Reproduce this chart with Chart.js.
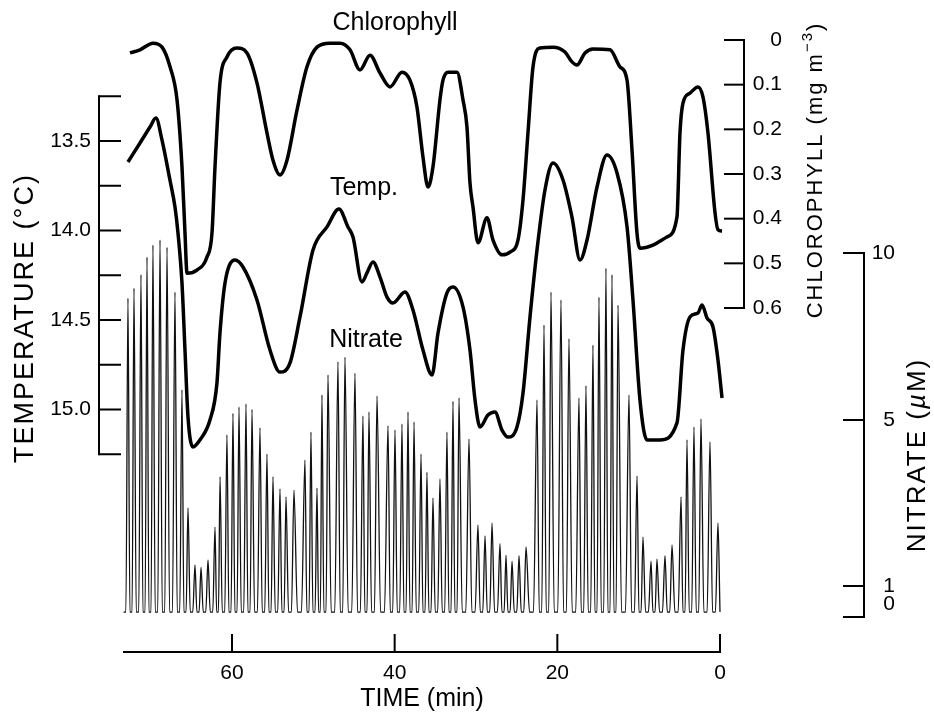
<!DOCTYPE html>
<html>
<head>
<meta charset="utf-8">
<script src="https://cdn.jsdelivr.net/npm/chart.js@4.4.0/dist/chart.umd.min.js"></script>
<style>
  html, body { margin: 0; padding: 0; background: #fff; }
</style>
</head>
<body>
<canvas id="chart" width="934" height="714"></canvas>
<script>
// time axis is minutes before the end of the run, drawn right to left
const chlTime = [72.54, 71.31, 69.71, 68.60, 67.62, 66.76, 66.15, 65.78, 65.53, 64.31, 63.08, 62.46, 62.09, 61.48, 60.62, 59.39, 58.16, 56.93, 55.70, 54.96, 54.10, 53.24, 52.01, 50.78, 49.55, 47.95, 46.72, 45.49, 44.26, 43.03, 41.80, 40.57, 39.10, 38.12, 37.26, 36.52, 35.90, 35.29, 34.43, 34.06, 33.44, 32.34, 31.60, 31.11, 30.74, 30.37, 29.76, 28.65, 27.91, 26.80, 25.82, 24.84, 24.22, 23.61, 22.99, 22.13, 20.53, 19.06, 18.20, 17.58, 16.60, 15.62, 13.53, 12.30, 11.43, 10.82, 10.21, 9.84, 8.24, 6.52, 5.29, 4.92, 4.55, 3.69, 2.71, 2.09, 1.48, 0.61, 0.25, -0.25];
const chlValue = [0.029, 0.022, 0.007, 0.016, 0.060, 0.134, 0.284, 0.432, 0.522, 0.515, 0.486, 0.432, 0.284, 0.096, 0.038, 0.018, 0.029, 0.096, 0.208, 0.269, 0.302, 0.269, 0.157, 0.060, 0.016, 0.007, 0.007, 0.022, 0.067, 0.034, 0.074, 0.105, 0.072, 0.090, 0.150, 0.262, 0.329, 0.284, 0.134, 0.090, 0.072, 0.072, 0.134, 0.195, 0.320, 0.374, 0.454, 0.398, 0.448, 0.481, 0.475, 0.448, 0.358, 0.208, 0.060, 0.018, 0.016, 0.027, 0.049, 0.056, 0.029, 0.020, 0.022, 0.060, 0.090, 0.246, 0.432, 0.466, 0.459, 0.441, 0.396, 0.208, 0.141, 0.119, 0.105, 0.128, 0.208, 0.387, 0.425, 0.428];

const tempTime = [72.79, 71.31, 70.08, 69.35, 68.61, 67.63, 67.01, 66.64, 66.15, 65.78, 65.41, 64.80, 63.94, 62.71, 61.85, 61.48, 60.86, 59.63, 58.65, 56.93, 55.33, 54.10, 52.87, 51.64, 50.04, 48.32, 46.85, 45.74, 45.12, 44.02, 43.40, 42.67, 41.80, 40.94, 40.21, 38.73, 37.75, 36.52, 35.41, 34.67, 33.57, 32.83, 31.60, 30.74, 30.12, 29.51, 28.53, 27.67, 26.80, 26.07, 24.96, 24.22, 23.36, 22.50, 21.52, 20.53, 19.30, 18.20, 17.21, 16.35, 15.12, 13.90, 12.66, 11.43, 10.70, 9.84, 8.98, 7.38, 5.29, 4.55, 3.69, 2.71, 2.21, 1.60, 0.86, 0.25, -0.25];
const tempValue = [13.617, 13.511, 13.422, 13.372, 13.494, 13.718, 13.869, 14.014, 14.293, 14.668, 15.042, 15.209, 15.170, 15.059, 14.852, 14.573, 14.293, 14.165, 14.204, 14.388, 14.668, 14.791, 14.740, 14.483, 14.109, 13.980, 13.880, 13.980, 14.036, 14.288, 14.237, 14.176, 14.260, 14.372, 14.405, 14.344, 14.444, 14.668, 14.807, 14.573, 14.349, 14.316, 14.427, 14.668, 14.947, 15.098, 15.031, 15.014, 15.115, 15.154, 15.098, 14.908, 14.483, 14.109, 13.774, 13.623, 13.718, 13.925, 14.165, 14.053, 13.757, 13.578, 13.679, 13.980, 14.388, 14.947, 15.170, 15.170, 15.075, 14.668, 14.483, 14.461, 14.416, 14.489, 14.539, 14.723, 14.936];

// autoanalyzer nitrate peaks (time of peak, peak height in uM)
const nitrateTime = [72.79, 72.05, 71.19, 70.45, 69.72, 68.85, 67.99, 67.01, 66.15, 65.41, 64.55, 63.81, 62.95, 62.09, 61.47, 60.62, 59.88, 59.14, 58.28, 57.54, 56.56, 55.70, 54.96, 54.10, 53.36, 52.38, 51.03, 50.29, 49.55, 48.94, 48.20, 46.97, 46.11, 44.88, 43.90, 43.16, 42.17, 40.82, 39.96, 39.10, 38.36, 37.62, 36.76, 36.03, 35.29, 34.43, 33.57, 32.83, 32.09, 30.86, 29.76, 28.89, 28.03, 27.05, 26.31, 25.57, 24.71, 23.85, 22.50, 21.64, 20.78, 19.55, 18.57, 17.34, 16.48, 15.62, 14.88, 14.02, 13.28, 12.54, 11.19, 10.20, 9.47, 8.48, 7.75, 6.76, 5.90, 4.79, 4.06, 3.20, 2.34, 1.23, 0.25];
const nitratePeak = [8.65, 8.95, 9.35, 9.88, 10.24, 10.39, 10.17, 8.83, 5.90, 2.88, 1.51, 1.45, 1.63, 2.42, 3.63, 4.64, 5.20, 5.39, 5.48, 5.32, 4.81, 4.18, 3.63, 3.34, 3.15, 3.31, 4.03, 4.71, 3.36, 5.75, 6.35, 6.74, 6.88, 6.40, 5.12, 5.24, 5.72, 4.86, 4.76, 4.90, 5.24, 4.95, 4.18, 3.74, 3.12, 3.58, 4.71, 5.56, 5.66, 4.54, 2.47, 2.21, 2.52, 2.02, 1.74, 1.60, 1.73, 1.94, 5.60, 7.84, 8.83, 8.59, 7.43, 5.66, 6.02, 7.24, 8.68, 9.55, 9.35, 8.44, 5.75, 3.65, 2.18, 1.60, 1.65, 1.73, 1.99, 3.15, 4.52, 4.83, 5.03, 4.47, 2.52];
const nitrateBase = 0.16;

const timeTicks = [60, 40, 20, 0];
const tempTicks = [13.5, 14.0, 14.5, 15.0];
const tempMarks = [13.25, 13.5, 13.75, 14.0, 14.25, 14.5, 14.75, 15.0, 15.25];
const chlTicks = [0, 0.1, 0.2, 0.3, 0.4, 0.5, 0.6];
const nitrateTicks = [0, 1, 5, 10];

const FONT = "'Liberation Sans', Arial, Helvetica, sans-serif";

// plot frame (pixels)
const AREA_TOP = 0, AREA_BOTTOM = 652;
// the nitrate recorder scale is not linear: pixel rows of its calibration marks
const NITRATE_TICK_PX = [617, 586, 420, 253];

// linear range that puts v0 at pixel p0 and v1 at pixel p1
function rangeFor(v0, p0, v1, p1, a, b) {
  const k = (p1 - p0) / (v1 - v0);
  const lo = v0 + (a - p0) / k, hi = v0 + (b - p0) / k;
  return { min: Math.min(lo, hi), max: Math.max(lo, hi) };
}
const xRange = rangeFor(0, 720, 60, 232, 124, 720);
const tempRange = rangeFor(13.5, 141, 15.0, 409.5, AREA_TOP, AREA_BOTTOM);
const chlRange = rangeFor(0, 40, 0.6, 308, AREA_TOP, AREA_BOTTOM);

function piecewise(v, from, to) {
  let i = 0;
  const up = from[from.length - 1] > from[0];
  while (i < from.length - 2 && (up ? v > from[i + 1] : v < from[i + 1])) i++;
  return to[i] + (v - from[i]) * (to[i + 1] - to[i]) / (from[i + 1] - from[i]);
}

// scale whose linear space is the pixel row itself, bent through the calibration marks
class NitrateScale extends Chart.LinearScale {
  getPixelForValue(value) {
    return super.getPixelForValue(piecewise(value, nitrateTicks, NITRATE_TICK_PX));
  }
  getValueForPixel(pixel) {
    return piecewise(super.getValueForPixel(pixel), NITRATE_TICK_PX, nitrateTicks);
  }
}
NitrateScale.id = 'nitrate';
NitrateScale.defaults = Chart.LinearScale.defaults;
Chart.register(NitrateScale);

// nitrate trace: each peak is a narrow spike; the recorder pen sits on the
// baseline for the middle part of the gap between two peaks
const nitrateTrace = [];
nitrateTime.forEach((t, i) => {
  const prev = i > 0 ? nitrateTime[i - 1] : t + 0.8;
  const gap = prev - t;
  nitrateTrace.push({ x: prev - gap * 0.32, y: nitrateBase });
  nitrateTrace.push({ x: t + gap * 0.32, y: nitrateBase });
  nitrateTrace.push({ x: t, y: nitratePeak[i] });
});
nitrateTrace.push({ x: nitrateTime[nitrateTime.length - 1] - 0.25, y: nitrateBase });

const pairs = (xs, ys) => xs.map((x, i) => ({ x: x, y: ys[i] }));

function setTicks(list) {
  return s => { s.ticks = list.map(v => ({ value: v })); };
}

function line(ctx, x1, y1, x2, y2) {
  ctx.beginPath();
  ctx.moveTo(x1, y1);
  ctx.lineTo(x2, y2);
  ctx.stroke();
}

function rotatedText(ctx, cx, cy, parts, spacing) {
  ctx.save();
  ctx.translate(cx, cy);
  ctx.rotate(-Math.PI / 2);
  ctx.textAlign = 'left';
  ctx.textBaseline = 'middle';
  ctx.letterSpacing = spacing || '0px';
  let total = 0;
  parts.forEach(p => { ctx.font = p.font; p.w = ctx.measureText(p.text).width; total += p.w; });
  let x = -total / 2;
  parts.forEach(p => { ctx.font = p.font; ctx.fillText(p.text, x, p.dy || 0); x += p.w; });
  ctx.restore();
}

const decorations = {
  id: 'decorations',
  afterDraw(chart) {
    const { ctx, scales, chartArea } = chart;
    ctx.save();
    ctx.strokeStyle = '#000';
    ctx.fillStyle = '#000';
    ctx.lineWidth = 2;

    // temperature axis, ticks pointing inward
    const t = scales.temp;
    line(ctx, 99, t.getPixelForValue(13.25) - 1, 99, t.getPixelForValue(15.25) + 1);
    tempMarks.forEach(v => { const y = t.getPixelForValue(v); line(ctx, 99, y, 121, y); });

    // chlorophyll axis
    const c = scales.chl;
    line(ctx, 744, c.getPixelForValue(0) - 1, 744, c.getPixelForValue(0.6) + 1);
    chlTicks.forEach(v => { const y = c.getPixelForValue(v); line(ctx, 724, y, 744, y); });

    // nitrate axis
    const n = scales.nit;
    line(ctx, 864, n.getPixelForValue(10) - 1, 864, n.getPixelForValue(0) + 1);
    nitrateTicks.forEach(v => { const y = n.getPixelForValue(v); line(ctx, 843, y, 864, y); });

    // time axis tick marks
    timeTicks.forEach(v => {
      const x = scales.x.getPixelForValue(v);
      line(ctx, x, chartArea.bottom, x, chartArea.bottom - 18);
    });

    // axis titles
    rotatedText(ctx, 26, 318, [{ text: 'TEMPERATURE (°C)', font: '27px ' + FONT }], '2px');
    rotatedText(ctx, 816, 170, [
      { text: 'CHLOROPHYLL (mg m', font: '22px ' + FONT },
      { text: '−3', font: '15px ' + FONT, dy: -8 },
      { text: ')', font: '22px ' + FONT }
    ], '2px');
    rotatedText(ctx, 918, 455, [
      { text: 'NITRATE (', font: '26px ' + FONT },
      { text: 'µ', font: 'italic 26px ' + FONT },
      { text: 'M)', font: '26px ' + FONT }
    ], '2px');

    // series labels
    ctx.textAlign = 'center';
    ctx.textBaseline = 'alphabetic';
    ctx.font = '25px ' + FONT;
    ctx.fillText('Chlorophyll', 395, 30);
    ctx.fillText('Temp.', 364, 195);
    ctx.fillText('Nitrate', 366, 347);
    ctx.restore();
  }
};

const tickFont = { family: FONT, size: 21 };

new Chart(document.getElementById('chart'), {
  type: 'line',
  data: {
    datasets: [
      {
        label: 'Chlorophyll',
        data: pairs(chlTime, chlValue),
        yAxisID: 'chl',
        borderColor: '#000',
        borderWidth: 3.5,
        pointRadius: 0,
        cubicInterpolationMode: 'monotone',
        clip: 6
      },
      {
        label: 'Temp.',
        data: pairs(tempTime, tempValue),
        yAxisID: 'temp',
        borderColor: '#000',
        borderWidth: 3.5,
        pointRadius: 0,
        cubicInterpolationMode: 'monotone',
        clip: 6
      },
      {
        label: 'Nitrate',
        data: nitrateTrace,
        yAxisID: 'nit',
        borderColor: '#111',
        borderWidth: 1.3,
        pointRadius: 0,
        cubicInterpolationMode: 'monotone',
        clip: 6
      }
    ]
  },
  options: {
    responsive: false,
    devicePixelRatio: 1,
    animation: false,
    events: [],
    layout: { padding: { left: 0, right: 39, top: AREA_TOP, bottom: 0 } },
    plugins: { legend: { display: false }, tooltip: { enabled: false } },
    scales: {
      x: {
        type: 'linear',
        position: 'bottom',
        reverse: true,
        min: xRange.min,
        max: xRange.max,
        afterBuildTicks: setTicks(timeTicks),
        afterFit: s => { s.height = 714 - AREA_BOTTOM; s.paddingLeft = 0; s.paddingRight = 0; },
        grid: { display: false },
        border: { display: true, width: 2, color: '#000' },
        ticks: { font: tickFont, color: '#000', padding: 1, maxRotation: 0, autoSkip: false },
        title: { display: true, text: 'TIME (min)', font: { family: FONT, size: 25 }, color: '#000', padding: { top: 0, bottom: 0 } }
      },
      temp: {
        type: 'linear',
        position: 'left',
        reverse: true,
        min: tempRange.min,
        max: tempRange.max,
        afterBuildTicks: setTicks(tempTicks),
        afterFit: s => { s.width = 124; s.paddingTop = 0; s.paddingBottom = 0; },
        grid: { display: false, drawTicks: false },
        border: { display: false },
        ticks: { font: tickFont, color: '#000', padding: 33, autoSkip: false, callback: v => v.toFixed(1) }
      },
      chl: {
        type: 'linear',
        position: 'right',
        reverse: true,
        min: chlRange.min,
        max: chlRange.max,
        afterBuildTicks: setTicks(chlTicks),
        afterFit: s => { s.width = 62; s.paddingTop = 0; s.paddingBottom = 0; },
        grid: { display: false, drawTicks: false },
        border: { display: false },
        ticks: { font: tickFont, color: '#000', crossAlign: 'far', autoSkip: false, callback: v => v === 0 ? '0' : v.toFixed(1) }
      },
      nit: {
        type: 'nitrate',
        position: 'right',
        reverse: true,
        min: AREA_TOP,
        max: AREA_BOTTOM,
        afterBuildTicks: setTicks(nitrateTicks),
        afterFit: s => { s.width = 113; s.paddingTop = 0; s.paddingBottom = 0; },
        grid: { display: false, drawTicks: false },
        border: { display: false },
        // the 0 label sits just above its mark, clear of the 1
        ticks: { font: tickFont, color: '#000', crossAlign: 'far', autoSkip: false, callback: v => v === 0 ? ['0', ''] : String(v) }
      }
    }
  },
  plugins: [decorations]
});
</script>
</body>
</html>
